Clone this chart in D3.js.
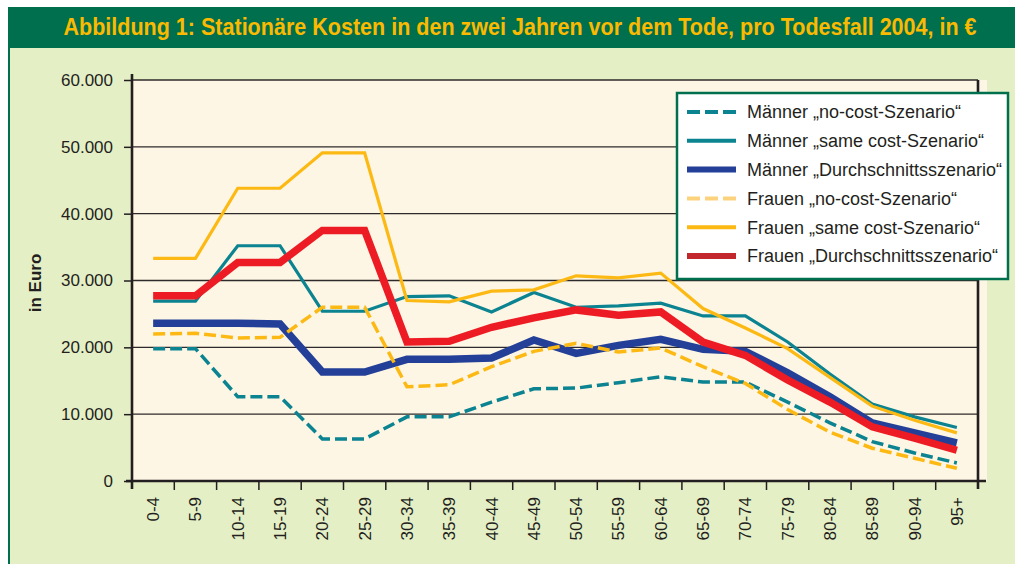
<!DOCTYPE html>
<html>
<head>
<meta charset="utf-8">
<script src="https://cdn.jsdelivr.net/npm/d3@7"></script>
<style>
	body { margin: 0; background: #fff; }
	svg { display: block; font-family: "Liberation Sans", Arial, sans-serif; }
</style>
</head>
<body>
<svg id="chart" width="1015" height="564"></svg>
<script>
// Altersgruppen (x-Achse)
const ageGroups = ["0-4", "5-9", "10-14", "15-19", "20-24", "25-29", "30-34", "35-39", "40-44", "45-49",
	"50-54", "55-59", "60-64", "65-69", "70-74", "75-79", "80-84", "85-89", "90-94", "95+"];

// Werte in Euro
const maennerNoCost = [19800, 19800, 12600, 12600, 6300, 6300, 9600, 9600, 11800, 13800,
	13900, 14700, 15600, 14800, 14800, 11800, 8700, 5900, 4200, 2700];
const maennerSameCost = [26900, 26900, 35200, 35200, 25400, 25400, 27600, 27700, 25300, 28200,
	26000, 26200, 26600, 24700, 24700, 20800, 16000, 11500, 9600, 8000];
const maennerAvg = [23600, 23600, 23600, 23500, 16300, 16300, 18200, 18200, 18400, 21100,
	19100, 20300, 21200, 19700, 19400, 16200, 12600, 8700, 7200, 5700];
const frauenNoCost = [22000, 22100, 21400, 21500, 26000, 26000, 14100, 14400, 17100, 19400,
	20600, 19300, 19900, 17100, 14600, 10700, 7300, 4900, 3400, 1900];
const frauenSameCost = [33300, 33300, 43800, 43800, 49100, 49100, 27000, 26800, 28400, 28600,
	30700, 30400, 31100, 25800, 22900, 19800, 15500, 11200, 9100, 7200];
const frauenAvg = [27700, 27700, 32700, 32700, 37500, 37500, 20800, 20900, 23000, 24400,
	25600, 24800, 25300, 20800, 18800, 15100, 11800, 8100, 6400, 4600];

const yTicks = [0, 10000, 20000, 30000, 40000, 50000, 60000];

const titleText = "Abbildung 1: Stationäre Kosten in den zwei Jahren vor dem Tode, pro Todesfall 2004, in €";

// Legenden-Reihenfolge; Zeichenreihenfolge separat (dicke Linien über dünnen)
const series = [
	{ name: "Männer „no-cost-Szenario“", values: maennerNoCost, color: "#0b8391", legendColor: "#0b8391", width: 3.5, legendWidth: 4, dash: "12,5", order: 4 },
	{ name: "Männer „same cost-Szenario“", values: maennerSameCost, color: "#0b8391", legendColor: "#0b8391", width: 3.2, legendWidth: 4, dash: null, order: 0 },
	{ name: "Männer „Durchschnittsszenario“", values: maennerAvg, color: "#233f98", legendColor: "#233f98", width: 7.5, legendWidth: 6, dash: null, order: 2 },
	{ name: "Frauen „no-cost-Szenario“", values: frauenNoCost, color: "#fdb913", legendColor: "#fdd27c", width: 3.5, legendWidth: 4, dash: "12,5", order: 5 },
	{ name: "Frauen „same cost-Szenario“", values: frauenSameCost, color: "#fdb913", legendColor: "#fdb913", width: 3.2, legendWidth: 4, dash: null, order: 1 },
	{ name: "Frauen „Durchschnittsszenario“", values: frauenAvg, color: "#ed1c24", legendColor: "#c1272d", width: 7.5, legendWidth: 6, dash: null, order: 3 }
];

class CostChart {

	constructor(_config) {
		this.config = _config;
		this.initVis();
	}

	initVis() {
		let vis = this;
		vis.svg = d3.select(vis.config.parentElement);

		// Rahmen: grüner Titelbalken und hellgrüne Fläche
		vis.svg.append("rect")
			.attr("x", 8).attr("y", 48)
			.attr("width", 1007).attr("height", 516)
			.attr("fill", "#e5efc6");
		vis.svg.append("rect")
			.attr("x", 8).attr("y", 7)
			.attr("width", 1007).attr("height", 41)
			.attr("fill", "#006f4e");
		vis.svg.append("line")
			.attr("x1", 9).attr("x2", 9)
			.attr("y1", 7).attr("y2", 564)
			.attr("stroke", "#006f4e").attr("stroke-width", 2);

		// Titel: schmale Schrift durch horizontale Stauchung nachgebildet
		const title = vis.svg.append("text")
			.style("font-weight", "bold")
			.style("font-size", "23px")
			.style("text-anchor", "middle")
			.attr("fill", "#fbba00")
			.text(titleText);
		const natural = title.node().getComputedTextLength();
		const sx = Math.min(1, 914 / natural);
		title.attr("transform", `translate(520,35) scale(${sx},1)`);

		// Plotfläche
		vis.svg.append("rect")
			.attr("x", 133).attr("y", 80)
			.attr("width", 854).attr("height", 401)
			.attr("fill", "#fdf6e4");

		vis.xScale = d3.scaleBand()
			.domain(ageGroups)
			.range([132, 978]);

		vis.yScale = d3.scaleLinear()
			.domain([0, 60000])
			.range([481, 80]);

		vis.de = d3.formatLocale({ decimal: ",", thousands: ".", grouping: [3], currency: ["", " €"] });

		vis.gridG = vis.svg.append("g");
		vis.lineG = vis.svg.append("g");
		vis.axisG = vis.svg.append("g");
		vis.legendG = vis.svg.append("g");

		vis.svg.append("text")
			.attr("transform", "translate(41,283) rotate(-90)")
			.style("text-anchor", "middle")
			.style("font-weight", "bold")
			.style("font-size", "17px")
			.attr("fill", "#231f20")
			.text("in Euro");
	}

	renderVis() {
		let vis = this;
		const x = vis.xScale, y = vis.yScale;
		const half = x.bandwidth() / 2;

		// Gitterlinien
		vis.gridG.selectAll(".grid")
			.data(yTicks.filter(d => d > 0))
			.join("line")
			.attr("class", "grid")
			.attr("x1", 133).attr("x2", 978)
			.attr("y1", d => y(d)).attr("y2", d => y(d))
			.attr("stroke", "#2e2a2b")
			.attr("stroke-width", 1.4);

		// Linien
		const line = d3.line()
			.x((d, i) => x(ageGroups[i]) + half)
			.y(d => y(d));

		vis.lineG.selectAll(".series")
			.data(series.slice().sort((a, b) => a.order - b.order))
			.join("path")
			.attr("class", "series")
			.attr("d", d => line(d.values))
			.attr("fill", "none")
			.attr("stroke", d => d.color)
			.attr("stroke-width", d => d.width)
			.attr("stroke-dasharray", d => d.dash)
			.attr("stroke-linejoin", "miter");

		// y-Achse
		const yAxisG = vis.axisG.append("g")
			.attr("transform", "translate(132,0)")
			.call(d3.axisLeft(y).tickValues(yTicks).tickSize(8).tickPadding(11).tickFormat(vis.de.format(",")));
		yAxisG.select(".domain").remove();
		yAxisG.selectAll(".tick line").attr("stroke", "#231f20").attr("stroke-width", 1.5);
		yAxisG.selectAll("text")
			.style("font-size", "17px")
			.style("font-family", "'Liberation Sans', Arial, sans-serif")
			.attr("fill", "#231f20");

		// x-Achse: Beschriftungen in Bandmitte, Striche an Bandgrenzen
		const xAxisG = vis.axisG.append("g")
			.attr("transform", "translate(0,481)")
			.call(d3.axisBottom(x).tickSize(0));
		xAxisG.select(".domain").remove();
		xAxisG.selectAll("text")
			.attr("transform", "rotate(-90)")
			.attr("x", -16)
			.attr("y", 0)
			.attr("dy", "0.35em")
			.style("text-anchor", "end")
			.style("font-size", "17px")
			.style("font-family", "'Liberation Sans', Arial, sans-serif")
			.attr("fill", "#231f20");

		vis.axisG.selectAll(".xtick")
			.data(ageGroups.slice(1))
			.join("line")
			.attr("class", "xtick")
			.attr("x1", d => x(d)).attr("x2", d => x(d))
			.attr("y1", 481).attr("y2", 490)
			.attr("stroke", "#231f20")
			.attr("stroke-width", 1.5);

		const frame = [
			[126, 481, 986, 481],
			[132, 74, 132, 489],
			[978, 80, 978, 489]
		];
		vis.axisG.selectAll(".frame")
			.data(frame)
			.join("line")
			.attr("class", "frame")
			.attr("x1", d => d[0]).attr("y1", d => d[1])
			.attr("x2", d => d[2]).attr("y2", d => d[3])
			.attr("stroke", "#231f20")
			.attr("stroke-width", 2.6);

		// Legende
		vis.legendG.append("rect")
			.attr("x", 677).attr("y", 93)
			.attr("width", 331).attr("height", 186)
			.attr("fill", "#fff")
			.attr("stroke", "#006f4e")
			.attr("stroke-width", 2.5);

		const items = vis.legendG.selectAll(".item")
			.data(series)
			.join("g")
			.attr("class", "item")
			.attr("transform", (d, i) => `translate(687,${112 + i * 28.8})`);

		items.append("line")
			.attr("x1", 0).attr("x2", 49)
			.attr("stroke", d => d.legendColor)
			.attr("stroke-width", d => d.legendWidth)
			.attr("stroke-dasharray", d => d.dash ? "13,5" : null);

		items.append("text")
			.attr("x", 60)
			.attr("dy", "0.35em")
			.style("font-size", "18px")
			.attr("fill", "#231f20")
			.text(d => d.name);
	}
}

const chart = new CostChart({ parentElement: "#chart" });
chart.renderVis();
</script>
</body>
</html>
